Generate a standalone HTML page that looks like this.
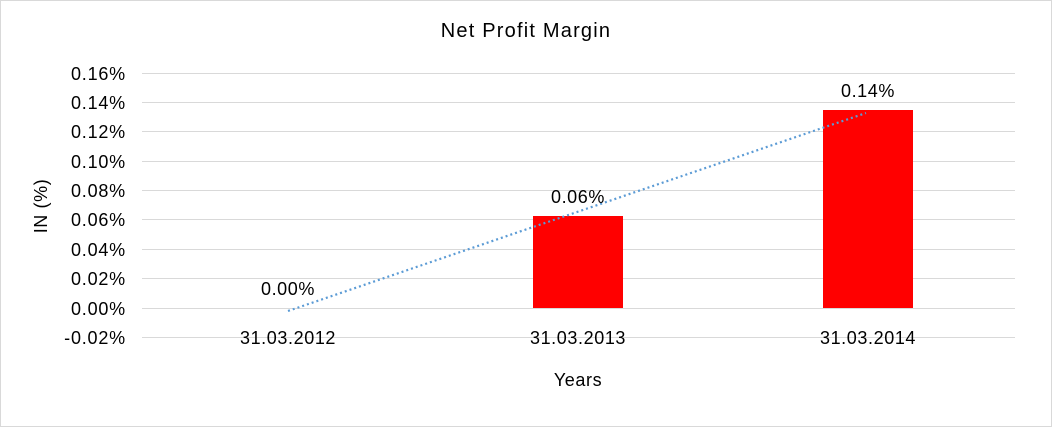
<!DOCTYPE html>
<html><head><style>body{margin:0;background:#fff}svg{display:block}</style></head><body>
<svg width="1052" height="427" xmlns="http://www.w3.org/2000/svg" font-family="Liberation Sans, Arial, sans-serif">
<rect x="0.5" y="0.5" width="1051" height="426" fill="#fff" stroke="#d9d9d9"/>
<text x="526" y="37" font-size="20" letter-spacing="1.2" text-anchor="middle" fill="#000">Net Profit Margin</text>
<g stroke="#d9d9d9" stroke-width="1">
<line x1="142" x2="1015" y1="73.5" y2="73.5"/><line x1="142" x2="1015" y1="102.5" y2="102.5"/>
<line x1="142" x2="1015" y1="131.5" y2="131.5"/><line x1="142" x2="1015" y1="161.5" y2="161.5"/>
<line x1="142" x2="1015" y1="190.5" y2="190.5"/><line x1="142" x2="1015" y1="219.5" y2="219.5"/>
<line x1="142" x2="1015" y1="249.5" y2="249.5"/><line x1="142" x2="1015" y1="278.5" y2="278.5"/>
<line x1="142" x2="1015" y1="308.5" y2="308.5"/><line x1="142" x2="1015" y1="337.5" y2="337.5"/>
</g>
<g font-size="18" letter-spacing="0.8" text-anchor="end" fill="#000">
<text x="126" y="80">0.16%</text><text x="126" y="109">0.14%</text><text x="126" y="138">0.12%</text>
<text x="126" y="168">0.10%</text><text x="126" y="197">0.08%</text><text x="126" y="226">0.06%</text>
<text x="126" y="256">0.04%</text><text x="126" y="285">0.02%</text><text x="126" y="315">0.00%</text>
<text x="126" y="344">-0.02%</text>
</g>
<rect x="533" y="216" width="90" height="92" fill="#ff0000"/>
<rect x="823" y="110" width="90" height="198" fill="#ff0000"/>
<line x1="288" y1="311" x2="866" y2="113" stroke="#5b9bd5" stroke-width="2.2" stroke-dasharray="2,3"/>
<g font-size="18" letter-spacing="0.6" text-anchor="middle" fill="#000">
<text x="288" y="295">0.00%</text><text x="578" y="203">0.06%</text><text x="868" y="97">0.14%</text>
<text x="288" y="344">31.03.2012</text><text x="578" y="344">31.03.2013</text><text x="868" y="344">31.03.2014</text>
<text x="578" y="386">Years</text>
</g>
<text transform="translate(47,206) rotate(-90)" font-size="18" letter-spacing="0.6" text-anchor="middle">IN (%)</text>
</svg>
</body></html>
